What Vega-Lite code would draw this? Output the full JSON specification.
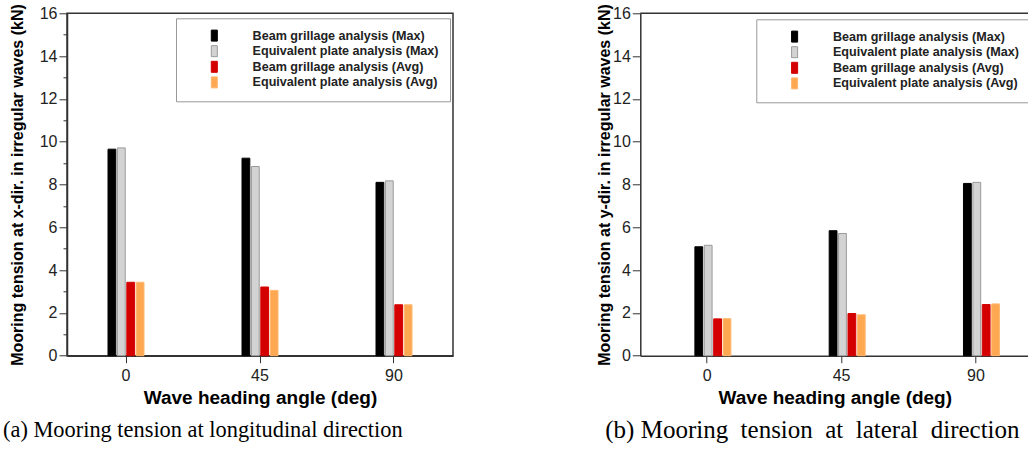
{
  "$schema": "https://vega.github.io/schema/vega-lite/v6.json",
  "background": "#ffffff",
  "padding": {"left": 2, "top": 2.3, "right": 0, "bottom": 0},
  "bounds": "flush",
  "spacing": 187.3,
  "resolve": {"scale": {"color": "independent", "stroke": "independent"}, "legend": {"color": "independent", "stroke": "independent"}},
  "datasets": {
    "a": [
      {"angle": 0, "series": "Beam grillage analysis (Max)", "value": 9.65},
      {"angle": 0, "series": "Equivalent plate analysis (Max)", "value": 9.71},
      {"angle": 0, "series": "Beam grillage analysis (Avg)", "value": 3.43},
      {"angle": 0, "series": "Equivalent plate analysis (Avg)", "value": 3.43},
      {"angle": 45, "series": "Beam grillage analysis (Max)", "value": 9.23},
      {"angle": 45, "series": "Equivalent plate analysis (Max)", "value": 8.84},
      {"angle": 45, "series": "Beam grillage analysis (Avg)", "value": 3.21},
      {"angle": 45, "series": "Equivalent plate analysis (Avg)", "value": 3.05},
      {"angle": 90, "series": "Beam grillage analysis (Max)", "value": 8.10},
      {"angle": 90, "series": "Equivalent plate analysis (Max)", "value": 8.17},
      {"angle": 90, "series": "Beam grillage analysis (Avg)", "value": 2.38},
      {"angle": 90, "series": "Equivalent plate analysis (Avg)", "value": 2.38}
    ],
    "b": [
      {"angle": 0, "series": "Beam grillage analysis (Max)", "value": 5.09},
      {"angle": 0, "series": "Equivalent plate analysis (Max)", "value": 5.16},
      {"angle": 0, "series": "Beam grillage analysis (Avg)", "value": 1.72},
      {"angle": 0, "series": "Equivalent plate analysis (Avg)", "value": 1.73},
      {"angle": 45, "series": "Beam grillage analysis (Max)", "value": 5.84},
      {"angle": 45, "series": "Equivalent plate analysis (Max)", "value": 5.71},
      {"angle": 45, "series": "Beam grillage analysis (Avg)", "value": 1.97},
      {"angle": 45, "series": "Equivalent plate analysis (Avg)", "value": 1.91},
      {"angle": 90, "series": "Beam grillage analysis (Max)", "value": 8.05},
      {"angle": 90, "series": "Equivalent plate analysis (Max)", "value": 8.10},
      {"angle": 90, "series": "Beam grillage analysis (Avg)", "value": 2.39},
      {"angle": 90, "series": "Equivalent plate analysis (Avg)", "value": 2.42}
    ]
  },
  "config": {
    "font": "Liberation Sans",
    "view": {"stroke": "#333333", "strokeWidth": 1.5},
    "axis": {"domainColor": "#333333", "domainWidth": 1.5, "tickColor": "#333333", "tickWidth": 1, "grid": false, "labelColor": "#222222", "titleColor": "#000000", "labelFont": "Liberation Sans", "titleFont": "Liberation Sans"},
    "legend": {"title": null, "symbolType": "M-0.55,-1H0.55V1H-0.55Z", "symbolSize": 121, "symbolOffset": 21, "labelOffset": 32, "labelFont": "Liberation Sans", "labelFontSize": 12.6, "labelFontWeight": "bold", "labelColor": "#222222", "padding": 11, "strokeColor": "#999999", "fillColor": "#ffffff", "rowPadding": -0.4, "labelLimit": 400, "symbolStrokeWidth": 1, "symbolOpacity": 1}
  },
  "hconcat": [
    {
      "width": 386,
      "height": 342.4,
      "data": {"name": "a"},
      "title": {"text": "(a) Mooring tension at longitudinal direction", "orient": "bottom", "anchor": "start", "frame": "group", "dx": -64, "font": "Liberation Serif", "fontSize": 22.4, "fontWeight": "normal", "color": "#000000", "offset": 11},
      "mark": {"type": "bar", "strokeWidth": 1},
      "encoding": {
        "x": {"field": "angle", "type": "ordinal", "scale": {"paddingInner": 0.1194, "paddingOuter": 0, "align": 0.5},
          "axis": {"title": "Wave heading angle (deg)", "labelAngle": 0, "labelFontSize": 16, "labelPadding": 5, "tickSize": 7, "titleFontSize": 19, "titleFontWeight": "bold", "titlePadding": 5}},
        "xOffset": {"field": "series", "type": "nominal", "sort": ["Beam grillage analysis (Max)", "Equivalent plate analysis (Max)", "Beam grillage analysis (Avg)", "Equivalent plate analysis (Avg)"], "scale": {"range": [41, 77], "paddingInner": 0.17, "paddingOuter": 0}},
        "y": {"field": "value", "type": "quantitative", "scale": {"domain": [0, 16], "nice": false},
          "axis": {"title": "Mooring tension at x-dir. in irregular waves (kN)", "values": [0,1,2,3,4,5,6,7,8,9,10,11,12,13,14,15,16], "labelExpr": "datum.value % 2 ? '' : datum.label", "labelOverlap": false, "labelFontSize": 16, "labelPadding": 2, "tickSize": {"condition": {"test": "datum.value % 2", "value": 4}, "value": 8}, "titleFontSize": 16, "titleFontWeight": "bold", "titlePadding": 14}},
        "color": {"field": "series", "type": "nominal", "scale": {"domain": ["Beam grillage analysis (Max)", "Equivalent plate analysis (Max)", "Beam grillage analysis (Avg)", "Equivalent plate analysis (Avg)"], "range": ["#000000", "#d3d3d3", "#d40000", "#ffa852"]},
          "legend": {"orient": "none", "legendX": 109, "legendY": 5}},
        "stroke": {"field": "series", "type": "nominal", "scale": {"domain": ["Beam grillage analysis (Max)", "Equivalent plate analysis (Max)", "Beam grillage analysis (Avg)", "Equivalent plate analysis (Avg)"], "range": ["#000000", "#9a9a9a", "#d40000", "#ffb870"]}}
      }
    },
    {
      "width": 389,
      "height": 342.4,
      "data": {"name": "b"},
      "view": {"stroke": null},
      "title": {"text": "(b) Mooring\u00a0 tension\u00a0 at\u00a0 lateral\u00a0 direction", "orient": "bottom", "anchor": "start", "frame": "group", "dx": -35, "font": "Liberation Serif", "fontSize": 25, "fontWeight": "normal", "color": "#000000", "offset": 10},
      "layer": [
        {
          "mark": {"type": "bar", "strokeWidth": 1},
          "encoding": {
            "x": {"field": "angle", "type": "ordinal", "scale": {"paddingInner": 0.2047, "paddingOuter": 0.0506, "align": 1},
              "axis": {"title": "Wave heading angle (deg)", "labelAngle": 0, "labelFontSize": 16, "labelPadding": 5, "tickSize": 7, "titleFontSize": 19, "titleFontWeight": "bold", "titlePadding": 5}},
            "xOffset": {"field": "series", "type": "nominal", "sort": ["Beam grillage analysis (Max)", "Equivalent plate analysis (Max)", "Beam grillage analysis (Avg)", "Equivalent plate analysis (Avg)"], "scale": {"range": [35.4, 71.4], "paddingInner": 0.17, "paddingOuter": 0}},
            "y": {"field": "value", "type": "quantitative", "scale": {"domain": [0, 16], "nice": false},
              "axis": {"title": "Mooring tension at y-dir. in irregular waves (kN)", "values": [0,1,2,3,4,5,6,7,8,9,10,11,12,13,14,15,16], "labelExpr": "datum.value % 2 ? '' : datum.label", "labelOverlap": false, "labelFontSize": 16, "labelPadding": 2, "tickSize": {"condition": {"test": "datum.value % 2", "value": 4}, "value": 8}, "titleFontSize": 16, "titleFontWeight": "bold", "titlePadding": 0}},
            "color": {"field": "series", "type": "nominal", "scale": {"domain": ["Beam grillage analysis (Max)", "Equivalent plate analysis (Max)", "Beam grillage analysis (Avg)", "Equivalent plate analysis (Avg)"], "range": ["#000000", "#d3d3d3", "#d40000", "#ffa852"]},
              "legend": {"orient": "none", "legendX": 116, "legendY": 6}},
            "stroke": {"field": "series", "type": "nominal", "scale": {"domain": ["Beam grillage analysis (Max)", "Equivalent plate analysis (Max)", "Beam grillage analysis (Avg)", "Equivalent plate analysis (Avg)"], "range": ["#000000", "#9a9a9a", "#d40000", "#ffb870"]}}
          }
        },
        {
          "data": {"values": [{"top": 16}]},
          "mark": {"type": "rule", "color": "#333333", "strokeWidth": 1.5},
          "encoding": {"y": {"field": "top", "type": "quantitative"}}
        }
      ]
    }
  ]
}
